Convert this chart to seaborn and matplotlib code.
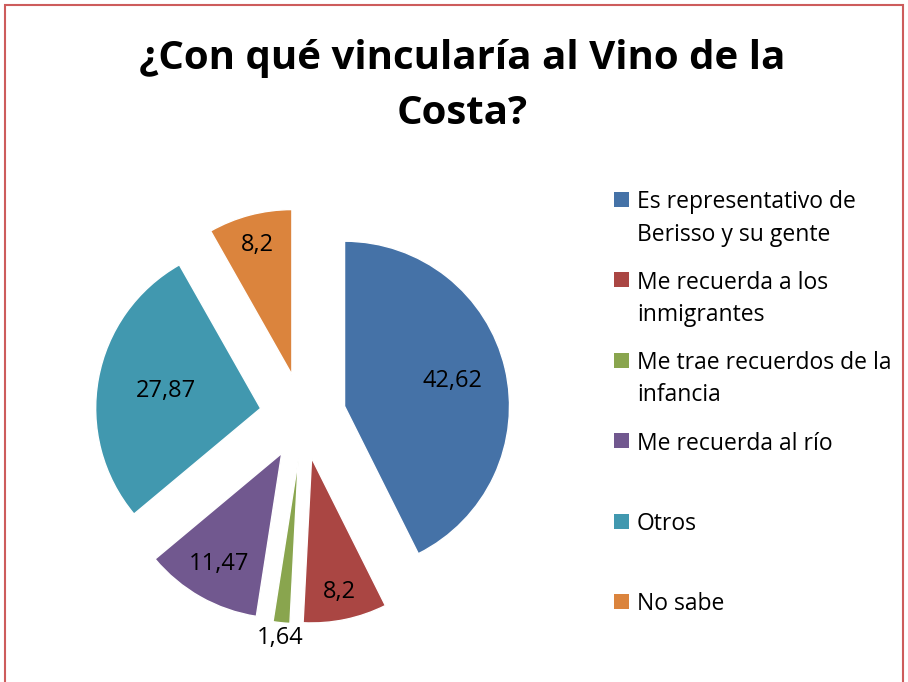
import numpy as np
import matplotlib
matplotlib.use('Agg')
import matplotlib.pyplot as plt
import seaborn as sns
from matplotlib.patches import Rectangle

# Datos del grafico
categorias = ['Es representativo de\nBerisso y su gente',
              'Me recuerda a los\ninmigrantes',
              'Me trae recuerdos de la\ninfancia',
              'Me recuerda al río',
              'Otros',
              'No sabe']
valores = [42.62, 8.2, 1.64, 11.47, 27.87, 8.2]
etiquetas = ['42,62', '8,2', '1,64', '11,47', '27,87', '8,2']

colores = ['#4572A7', '#AA4643', '#89A54E', '#71588F', '#4198AF', '#DB843D']
dist_etiquetas = [0.67, 0.83, 1.09, 0.77, 0.58, 0.81]

sns.set_style('white')
plt.rcParams['font.family'] = ['Open Sans', 'DejaVu Sans']
plt.rcParams['text.color'] = 'black'

W, H = 908, 682
fig = plt.figure(figsize=(W / 100, H / 100), dpi=100)
ax = fig.add_axes([0.061, 0.027, 0.545, 0.726])

wedges, _ = ax.pie(valores, colors=colores, startangle=90, counterclock=False,
                   explode=[0.26] * len(valores), radius=1)
ax.set_xlim(-1.5, 1.5)
ax.set_ylim(-1.5, 1.5)
ax.set_aspect('equal')
ax.axis('off')

# Etiquetas de datos dentro de cada porcion
for w, txt, d in zip(wedges, etiquetas, dist_etiquetas):
    ang = np.deg2rad((w.theta1 + w.theta2) / 2)
    cx, cy = w.center
    ax.text(cx + d * np.cos(ang), cy + d * np.sin(ang), txt,
            ha='center', va='center', fontsize=17, color='black')

fig.text(0.509, 1 - 86 / H, '¿Con qué vincularía al Vino de la\nCosta?', ha='center', va='center',
         fontsize=29, fontweight='bold', linespacing=1.52, color='black')

# Leyenda a la derecha (cuadro alineado con la primera linea)
y0, paso = 199.5, 80.4
for i, (w, cat) in enumerate(zip(wedges, categorias)):
    y = y0 + i * paso
    fig.patches.append(Rectangle((614 / W, 1 - (y + 7.5) / H), 15 / W, 15 / H,
                                 transform=fig.transFigure, facecolor=w.get_facecolor(),
                                 edgecolor='none'))
    fig.text(637 / W, 1 - (y - 9) / H, cat, ha='left', va='top', fontsize=16.5,
             linespacing=1.45, color='black')

fig.patches.append(Rectangle((5 / W, -0.02), 898 / W, 1 - 5 / H + 0.02,
                             transform=fig.transFigure, fill=False,
                             edgecolor='#CD5C5C', linewidth=1.5))

plt.savefig('out.png', dpi=100)
plt.close()
